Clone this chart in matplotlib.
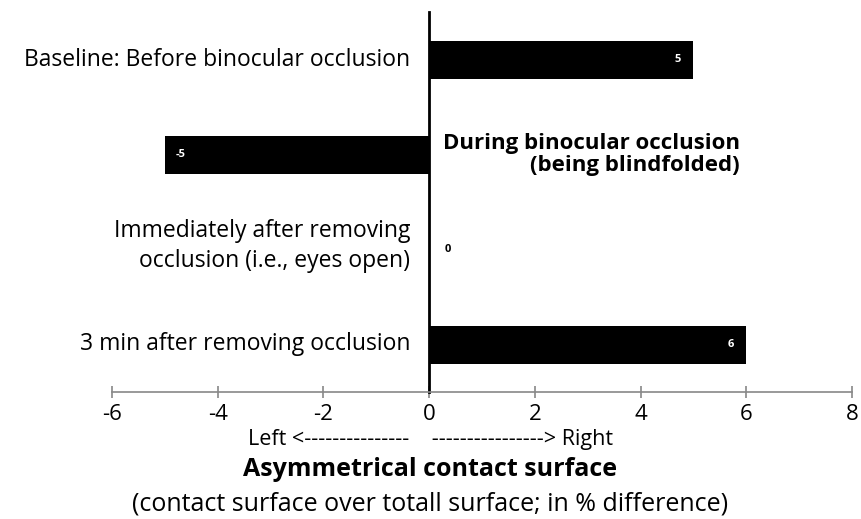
import matplotlib.pyplot as plt
import numpy as np

plt.rcParams['font.family'] = ['Open Sans', 'DejaVu Sans']

conditions = ['Baseline: Before binocular occlusion',
              'During binocular occlusion\n(being blindfolded)',
              'Immediately after removing\nocclusion (i.e., eyes open)',
              '3 min after removing occlusion']
values = [5, -5, 0, 6]
xticks = [-6, -4, -2, 0, 2, 4, 6, 8]

fig = plt.figure(figsize=(8.61, 5.19), dpi=100)
ax = fig.add_axes([112/861, 1-392/519, 740/861, 380/519])

y = np.arange(len(values))
ax.barh(y, values, height=0.4, color='black')
ax.set_xlim(-6, 8)
ax.set_ylim(3.5, -0.5)

# zero line acts as the vertical axis
ax.spines['left'].set_position(('data', 0))
ax.spines['left'].set_linewidth(2)
ax.spines['right'].set_visible(False)
ax.spines['top'].set_visible(False)
ax.spines['bottom'].set_color('#888888')
ax.spines['bottom'].set_linewidth(1.2)
ax.set_yticks([])
ax.set_xticks(xticks)
ax.set_xticklabels([str(t) for t in xticks])
ax.tick_params(axis='x', direction='inout', length=9, width=1.2, color='#888888',
               labelsize=16, pad=4)

# condition labels
for i, (lab, v) in enumerate(zip(conditions, values)):
    if i == 1:
        ax.text(5.88, i, lab, ha='right', va='center', fontsize=16,
                fontweight='bold', linespacing=1.05)
    else:
        ax.text(-0.36, i - 0.04 if '\n' in lab else i, lab, ha='right',
                va='center', fontsize=16.5, linespacing=1.35)

# value labels
for i, v in enumerate(values):
    if v == 0:
        ax.text(0.36, i, str(v), ha='center', va='center', fontsize=8,
                fontweight='bold', color='black')
    else:
        ax.text(v - 0.3 * np.sign(v), i, str(v), ha='center', va='center',
                fontsize=8, fontweight='bold', color='white')

fig.text(0.5, 1-440/519, 'Left <---------------    ----------------> Right',
         ha='center', va='center', fontsize=15.5)
fig.text(0.5, 1-470/519, 'Asymmetrical contact surface', ha='center',
         va='center', fontsize=18, fontweight='bold')
fig.text(0.5, 1-504/519, '(contact surface over totall surface; in % difference)',
         ha='center', va='center', fontsize=18)

plt.savefig('out.png', dpi=100)
